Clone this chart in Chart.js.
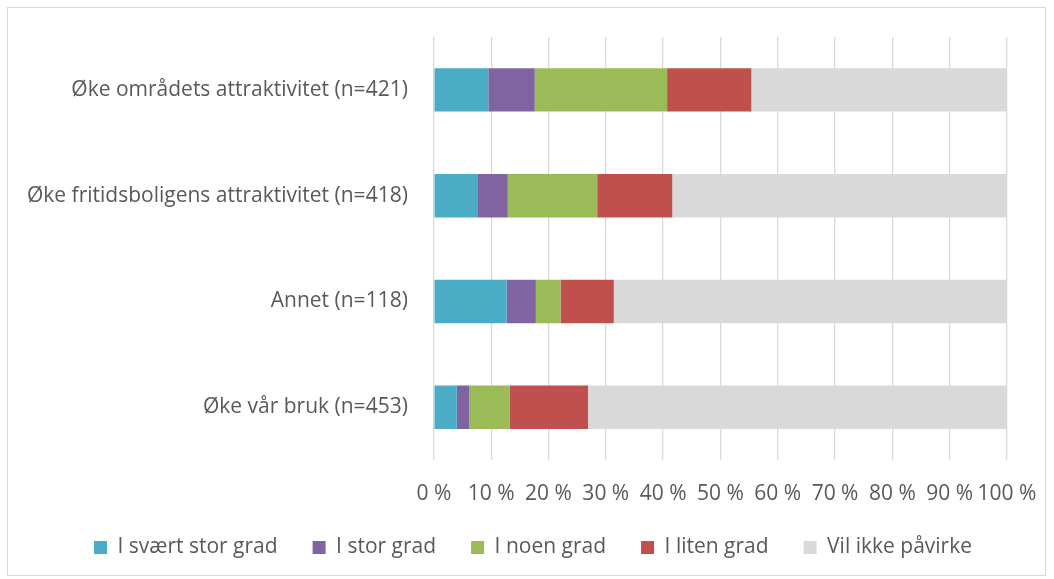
<!DOCTYPE html>
<html>
<head>
<meta charset="utf-8">
<script src="https://cdn.jsdelivr.net/npm/chart.js@4.4.1/dist/chart.umd.min.js"></script>
<style>
  html, body { margin: 0; padding: 0; background: #fff; }
  #wrap { position: absolute; left: 7px; top: 7px; width: 1039px; height: 569px; border: 1px solid #d9d9d9; box-sizing: border-box; }
  #c { position: absolute; left: -8px; top: -8px; }
</style>
</head>
<body>
<div id="wrap"><canvas id="c" width="1054" height="579"></canvas></div>
<script>
// categories, top to bottom
var categories = [
  'Øke områdets attraktivitet (n=421)',
  'Øke fritidsboligens attraktivitet (n=418)',
  'Annet (n=118)',
  'Øke vår bruk (n=453)'
];
var seriesNames = ['I svært stor grad', 'I stor grad', 'I noen grad', 'I liten grad', 'Vil ikke påvirke'];
var seriesColors = ['#4BACC6', '#8064A2', '#9BBB59', '#C0504D', '#D9D9D9'];

// percent shares per category
var sværtStor = [9.5, 7.7, 12.7, 4.0];
var stor = [8.1, 5.2, 5.1, 2.2];
var noen = [23.1, 15.6, 4.3, 7.0];
var liten = [14.7, 13.1, 9.3, 13.7];
var ikke = [44.6, 58.4, 68.6, 73.1];

var xTicks = [0, 10, 20, 30, 40, 50, 60, 70, 80, 90, 100];

var FONT = '"Open Sans", sans-serif';
var FSIZE = 21;
var TEXT = '#595959';

var seriesData = [sværtStor, stor, noen, liten, ikke];
var datasets = seriesData.map(function (vals, i) {
  return {
    label: seriesNames[i],
    data: vals,
    backgroundColor: seriesColors[i],
    borderWidth: 0,
    barPercentage: 0.41,
    categoryPercentage: 1.0,
  };
});

new Chart(document.getElementById('c'), {
  type: 'bar',
  data: { labels: categories, datasets: datasets },
  options: {
    indexAxis: 'y',
    responsive: false,
    animation: false,
    layout: { padding: { left: 9, right: 47, top: 37, bottom: 11 } },
    plugins: {
      tooltip: { enabled: false },
      legend: {
        position: 'bottom',
        align: 'end',
        labels: {
          font: { family: FONT, size: FSIZE },
          color: TEXT,
          boxWidth: 13,
          boxHeight: 13,
          padding: 35,
        },
      },
    },
    scales: {
      x: {
        stacked: true,
        min: 0,
        max: 100,
        afterBuildTicks: function (axis) {
          axis.ticks = xTicks.map(function (v) { return { value: v }; });
        },
        // transparent tick marks just push the labels down
        grid: { color: '#d9d9d9', lineWidth: 1.3, drawTicks: true, tickLength: 25, tickColor: 'rgba(0,0,0,0)' },
        border: { display: false },
        ticks: {
          font: { family: FONT, size: FSIZE, lineHeight: 0.8 },
          color: TEXT,
          padding: 0,
          autoSkip: false,
          maxRotation: 0,
          callback: function (v) { return v + ' %'; },
        },
      },
      y: {
        stacked: true,
        grid: { display: false },
        border: { display: false },
        ticks: {
          font: { family: FONT, size: FSIZE },
          color: TEXT,
          padding: 18,
        },
      },
    },
  },
});
</script>
</body>
</html>
